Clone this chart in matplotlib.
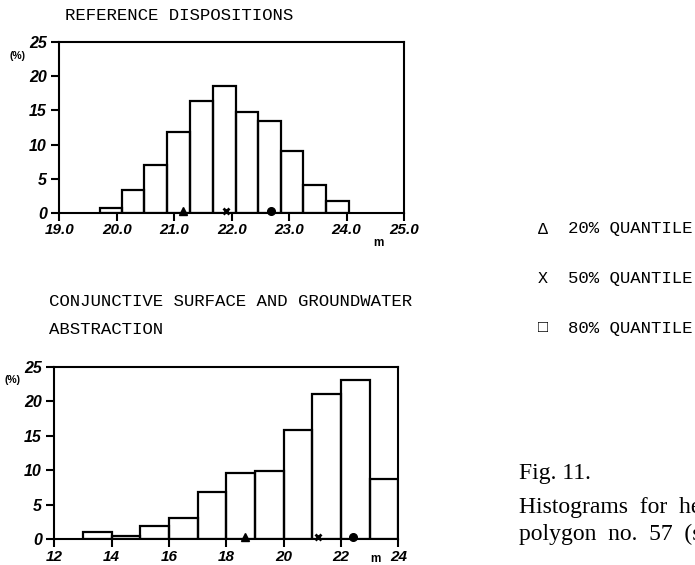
import matplotlib.pyplot as plt

# histogram data (percent of realisations)
ref_edges = [19.70, 20.09, 20.48, 20.87, 21.27, 21.67, 22.07, 22.46, 22.86, 23.25, 23.65, 24.04]
ref_pct = [0.8, 3.3, 7.0, 11.9, 16.3, 18.6, 14.7, 13.4, 9.0, 4.1, 1.8]
ref_quant = [21.16, 21.90, 22.69]   # 20%, 50%, 80%
ref_xticks = [19, 20, 21, 22, 23, 24, 25]
ref_xlabels = ['19.0', '20.0', '21.0', '22.0', '23.0', '24.0', '25.0']

conj_edges = [13, 14, 15, 16, 17, 18, 19, 20, 21, 22, 23, 24]
conj_pct = [1.0, 0.5, 1.9, 3.1, 6.8, 9.6, 9.9, 15.9, 21.0, 23.1, 8.8]
conj_quant = [18.65, 21.21, 22.43]
conj_xticks = [12, 14, 16, 18, 20, 22, 24]
conj_xlabels = ['12', '14', '16', '18', '20', '22', '24']

yticks = [0, 5, 10, 15, 20, 25]

mono = ['Liberation Mono', 'DejaVu Sans Mono']
tickfont = dict(family='Liberation Sans', weight='bold', style='italic', size=11.5)
xtickfont = dict(family='Liberation Sans', weight='bold', style='italic', size=11)

fig = plt.figure(figsize=(6.95, 5.65), dpi=100)
fig.patch.set_facecolor('white')


def draw_hist(ax, edges, pct, quant, xticks, xlabels, m_x, m_off):
    lefts = edges[:-1]
    widths = [edges[i + 1] - edges[i] for i in range(len(pct))]
    ax.bar(lefts, pct, width=widths, align='edge', fill=False,
           edgecolor='black', linewidth=1.6)
    ax.set_xlim(xticks[0], xticks[-1])
    ax.set_ylim(0, 25)
    ax.set_xticks(xticks)
    ax.set_xticklabels(xlabels, fontdict=xtickfont)
    ax.set_yticks(yticks)
    ax.set_yticklabels([str(v) for v in yticks], fontdict=tickfont)
    for s in ax.spines.values():
        s.set_linewidth(1.5)
    ax.tick_params(direction='out', length=6, width=1.5)
    ax.tick_params(axis='y', pad=3)
    ax.tick_params(axis='x', pad=1.5)
    # quantile markers on the baseline
    ax.plot(quant[0], 0.3, marker='^', color='black', ms=5.5, clip_on=False)
    ax.plot(quant[1], 0.3, marker='x', color='black', ms=4.5, mew=2, clip_on=False)
    ax.plot(quant[2], 0.3, marker='o', color='black', ms=5.5, clip_on=False)
    ax.annotate('m', xy=(m_x, 0), xycoords=('data', 'axes fraction'),
                xytext=(0, m_off), textcoords='offset points', ha='center',
                fontsize=8.5, fontweight='bold', fontfamily='Liberation Sans')
    ax.annotate('(%)', xy=(0, 0.92), xycoords='axes fraction',
                xytext=(-30, 0), textcoords='offset points', ha='center',
                va='center', fontsize=7.5, fontweight='bold',
                fontfamily='Liberation Sans')


ax1 = fig.add_axes([0.0853, 0.623, 0.496, 0.3027])
draw_hist(ax1, ref_edges, ref_pct, ref_quant, ref_xticks, ref_xlabels, 24.55, -24)

ax2 = fig.add_axes([0.0781, 0.0455, 0.495, 0.3055])
draw_hist(ax2, conj_edges, conj_pct, conj_quant, conj_xticks, conj_xlabels, 23.2, -16)

# titles in typewriter font
fig.text(65 / 695, 1 - 15 / 565, 'REFERENCE DISPOSITIONS', family=mono,
         fontsize=12.5, va='center')
fig.text(49 / 695, 1 - 301 / 565, 'CONJUNCTIVE SURFACE AND GROUNDWATER',
         family=mono, fontsize=12.5, va='center')
fig.text(49 / 695, 1 - 330 / 565, 'ABSTRACTION', family=mono,
         fontsize=12.5, va='center')

# legend of quantile symbols
legend_syms = ['Δ', 'X', '□']
legend_txt = ['20% QUANTILE', '50% QUANTILE', '80% QUANTILE']
legend_y = [229, 279, 328]
for sym, txt, y in zip(legend_syms, legend_txt, legend_y):
    fig.text(543 / 695, 1 - y / 565, sym, family=mono, fontsize=12,
             ha='center', va='center')
    fig.text(568 / 695, 1 - y / 565, txt, family=mono, fontsize=12.5,
             va='center')

# caption (runs off the right edge as in the source page)
fig.text(519 / 695, 1 - 473 / 565, 'Fig. 11.', family='Liberation Serif',
         fontsize=17, va='center')
fig.text(519 / 695, 1 - 508 / 565, 'Histograms  for  heads in',
         family='Liberation Serif', fontsize=17, va='center')
fig.text(519 / 695, 1 - 534 / 565, 'polygon  no.  57  (see text)',
         family='Liberation Serif', fontsize=17, va='center')

fig.savefig('out.png', dpi=100)
